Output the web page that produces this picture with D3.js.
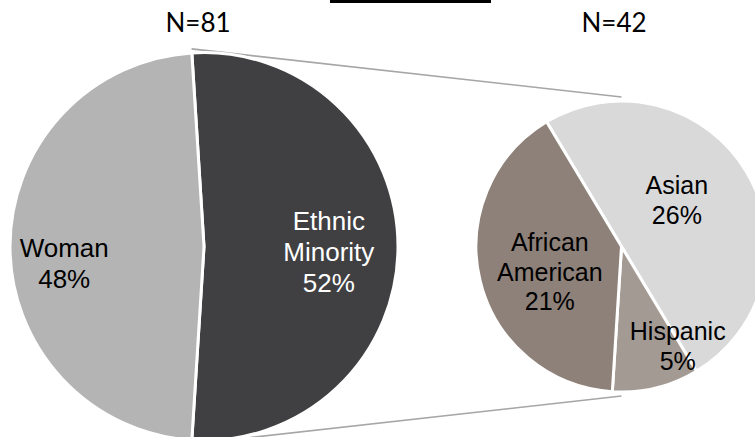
<!DOCTYPE html>
<html><head><meta charset="utf-8">
<script src="https://cdn.jsdelivr.net/npm/d3@7"></script>
<style>html,body{margin:0;padding:0;background:#fff;overflow:hidden}</style>
</head><body>
<svg id="c" width="755" height="437"></svg>
<script>
// ---- data ----
const mainCategories = ["Ethnic Minority", "Woman"];
const mainValues = [52, 48];
const subCategories = ["Asian", "Hispanic", "African American"];
const subValues = [26, 5, 21];
const mainN = "N=81";
const subN = "N=42";

// ---- style ----
const mainColors = {"Ethnic Minority": "#404042", "Woman": "#b4b4b4"};
const subColors = {"Asian": "#d9d9d9", "Hispanic": "#a39a94", "African American": "#8d8179"};
const labelLines = {
  "Woman": ["Woman"], "Ethnic Minority": ["Ethnic", "Minority"],
  "Asian": ["Asian"], "Hispanic": ["Hispanic"], "African American": ["African", "American"]
};
const labelColor = {"Ethnic Minority": "#ffffff"};
const nudge = {
  "Woman": [-4, 16.5], "Ethnic Minority": [-11, 5],
  "Asian": [-7, -9], "African American": [-1, 8], "Hispanic": [39, 29]
};

const svg = d3.select("#c");
const deg = Math.PI / 180;
const L = {cx: 204, cy: 246.5, r: 194};
const R = {cx: 621.5, cy: 246.5, r: 145.5};
const fontLab = "'Liberation Sans', Arial, sans-serif";
const fontN = "Lato, 'Open Sans', sans-serif";

const total = d3.sum(mainValues);
const otherShare = mainValues[0] / total;
const mainStart = Math.PI / 2 - otherShare * Math.PI;
const mainPie = d3.pie().sort(null).startAngle(mainStart).endAngle(mainStart + 2 * Math.PI);
const mainArcs = mainPie(mainValues).map((d, i) => Object.assign(d, {cat: mainCategories[i]}));
const subStart = -31 * deg;
const subPie = d3.pie().sort(null).startAngle(subStart).endAngle(subStart + 2 * Math.PI);
const subArcs = subPie(subValues).map((d, i) => Object.assign(d, {cat: subCategories[i]}));

// connector lines (behind pies)
const ext = 4;
const other = mainArcs[0];
function polar(c, rad, a) { return [c.cx + rad * Math.sin(a), c.cy - rad * Math.cos(a)]; }
const pTop = polar(L, L.r + ext, other.startAngle);
const pBot = polar(L, L.r + ext, other.endAngle);
const qTop = polar(R, R.r + ext, 0);
const qBot = polar(R, R.r + ext, Math.PI);
[[pTop, qTop], [pBot, qBot]].forEach(([a, b]) => {
  svg.append("line").attr("x1", a[0]).attr("y1", a[1]).attr("x2", b[0]).attr("y2", b[1])
    .attr("stroke", "#a6a6a6").attr("stroke-width", 1.6);
});

function drawPie(c, arcs, colors, labelK, fs, lh) {
  const g = svg.append("g").attr("transform", `translate(${c.cx},${c.cy})`);
  const arc = d3.arc().innerRadius(0).outerRadius(c.r);
  g.selectAll("path").data(arcs).join("path")
    .attr("d", arc).attr("fill", d => colors[d.cat])
    .attr("stroke", "#fff").attr("stroke-width", 3).attr("stroke-linejoin", "round");
  const la = d3.arc().innerRadius(c.r * labelK).outerRadius(c.r * labelK);
  arcs.forEach(d => {
    const [x0, y0] = la.centroid(d);
    const n = nudge[d.cat] || [0, 0];
    const x = x0 + n[0], y = y0 + n[1];
    const lines = labelLines[d.cat].concat([d3.format("d")(d.value) + "%"]);
    const first = y - (lines.length - 1) * lh / 2 + fs * 0.36;
    const t = g.append("text").attr("text-anchor", "middle")
      .attr("font-family", fontLab).attr("font-size", fs)
      .attr("fill", labelColor[d.cat] || "#000");
    lines.forEach((s, i) => t.append("tspan").attr("x", x).attr("y", first + i * lh).text(s));
  });
}
drawPie(L, mainArcs, mainColors, 0.7, 26, 31);
drawPie(R, subArcs, subColors, 0.5, 25, 29.5);

// N labels
svg.append("text").attr("x", 198).attr("y", 32).attr("text-anchor", "middle")
  .attr("font-family", fontN).attr("font-size", 26).attr("fill", "#000").text(mainN);
svg.append("text").attr("x", 614).attr("y", 32).attr("text-anchor", "middle")
  .attr("font-family", fontN).attr("font-size", 26).attr("fill", "#000").text(subN);

// cropped title box edge
svg.append("rect").attr("x", 330).attr("y", 0).attr("width", 161).attr("height", 3).attr("fill", "#000");
</script>
</body></html>
